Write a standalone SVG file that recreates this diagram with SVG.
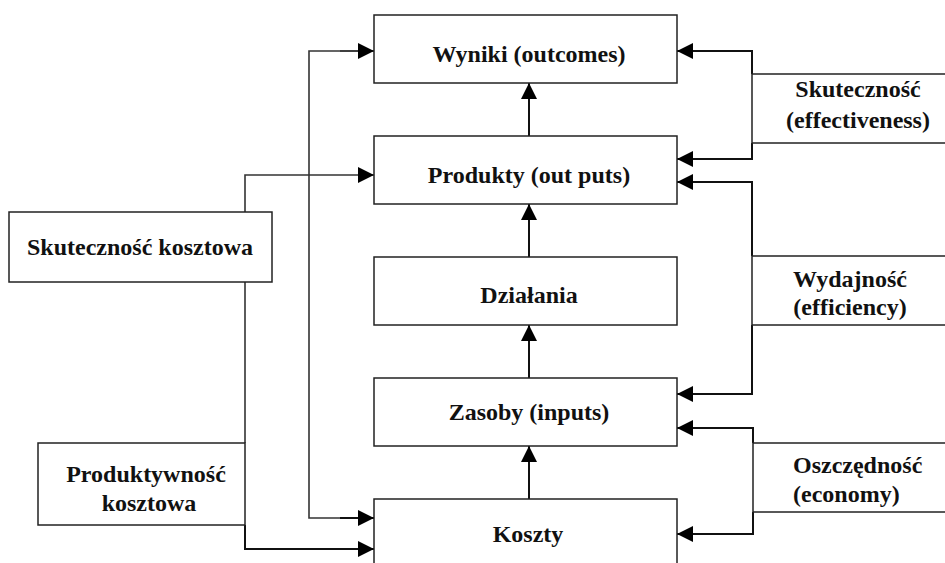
<svg xmlns="http://www.w3.org/2000/svg" width="945" height="563" viewBox="0 0 945 563">
<style>
.box{fill:#fff;stroke:#222;stroke-width:1.5}
.t{font-family:"Liberation Serif","Times New Roman",serif;font-weight:bold;font-size:24px;fill:#111;text-anchor:middle}
.ts{font-family:"Liberation Serif","Times New Roman",serif;font-weight:bold;font-size:24px;fill:#111;text-anchor:start}
.c{fill:none;stroke:#111;stroke-width:2}
.cl{fill:none;stroke:#333;stroke-width:1.6}
</style>
<defs>
<marker id="ah" markerUnits="userSpaceOnUse" markerWidth="17" markerHeight="16" refX="16" refY="8" orient="auto">
<path d="M0,0 L16,8 L0,16 Z" fill="#000"/>
</marker>
</defs>
<rect width="945" height="563" fill="#fff"/>
<g id="connectors">
<line class="c" x1="529" y1="136" x2="529" y2="83" marker-end="url(#ah)"/>
<line class="c" x1="529" y1="257" x2="529" y2="204" marker-end="url(#ah)"/>
<line class="c" x1="529" y1="378" x2="529" y2="325" marker-end="url(#ah)"/>
<line class="c" x1="529" y1="499" x2="529" y2="446" marker-end="url(#ah)"/>
<polyline class="cl" points="374,51 309,51 309,518 340,518"/>
<line class="cl" x1="340" y1="51" x2="374" y2="51" marker-end="url(#ah)"/>
<line class="c" x1="340" y1="518" x2="374" y2="518" marker-end="url(#ah)"/>
<polyline class="cl" points="245,212 245,175 374,175" marker-end="url(#ah)"/>
<line class="cl" x1="245" y1="282" x2="245" y2="443"/>
<polyline class="c" points="245,525 245,549 374,549" marker-end="url(#ah)"/>
<polyline class="c" points="752,74 752,51 677,51" marker-end="url(#ah)"/>
<polyline class="c" points="752,143 752,159 677,159" marker-end="url(#ah)"/>
<polyline class="c" points="752,256 752,182 677,182" marker-end="url(#ah)"/>
<polyline class="c" points="752,325 752,394 677,394" marker-end="url(#ah)"/>
<polyline class="c" points="753,443 753,428 677,428" marker-end="url(#ah)"/>
<polyline class="c" points="753,512 753,534 677,534" marker-end="url(#ah)"/>
</g>
<g id="wyniki">
<rect class="box" x="374" y="15" width="303" height="68"/>
<text class="t" x="529" y="62">Wyniki (outcomes)</text>
</g>
<g id="produkty">
<rect class="box" x="374" y="136" width="303" height="68"/>
<text class="t" x="529" y="183">Produkty (out puts)</text>
</g>
<g id="dzialania">
<rect class="box" x="374" y="257" width="303" height="68"/>
<text class="t" x="529" y="303">Działania</text>
</g>
<g id="zasoby">
<rect class="box" x="374" y="378" width="303" height="68"/>
<text class="t" x="529" y="420">Zasoby (inputs)</text>
</g>
<g id="koszty">
<rect class="box" x="374" y="499" width="303" height="80"/>
<text class="t" x="528" y="542">Koszty</text>
</g>
<g id="skutecznosc-kosztowa">
<rect class="box" x="9" y="212" width="263" height="70"/>
<text class="t" x="140" y="255">Skuteczność kosztowa</text>
</g>
<g id="produktywnosc-kosztowa">
<rect class="box" x="38" y="443" width="207" height="82"/>
<text class="t" x="146" y="482">Produktywność</text>
<text class="t" x="149" y="511">kosztowa</text>
</g>
<g id="skutecznosc">
<rect class="box" x="752" y="74" width="210" height="69"/>
<text class="t" x="858" y="97">Skuteczność</text>
<text class="t" x="858" y="128">(effectiveness)</text>
</g>
<g id="wydajnosc">
<rect class="box" x="752" y="256" width="210" height="69"/>
<text class="t" x="850" y="287">Wydajność</text>
<text class="t" x="850" y="315">(efficiency)</text>
</g>
<g id="oszczednosc">
<rect class="box" x="753" y="443" width="210" height="69"/>
<text class="ts" x="793" y="473">Oszczędność</text>
<text class="ts" x="793" y="502">(economy)</text>
</g>
</svg>
